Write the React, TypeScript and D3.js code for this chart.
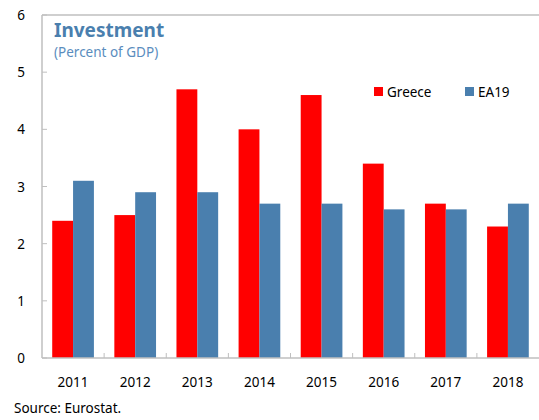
import React from "react";
import * as d3 from "d3";

const years = ["2011", "2012", "2013", "2014", "2015", "2016", "2017", "2018"];
const greece = [2.4, 2.5, 4.7, 4.0, 4.6, 3.4, 2.7, 2.3];
const ea19 = [3.1, 2.9, 2.9, 2.7, 2.7, 2.6, 2.6, 2.7];
const yTicks = [0, 1, 2, 3, 4, 5, 6];
const seriesNames = ["Greece", "EA19"];
const colors = ["#FF0000", "#4A7FAE"];

const W = 539, H = 420;
const left = 42, right = 539, top = 15, bottom = 358;
const font = "'Segoe UI', 'Noto Sans', 'Open Sans', sans-serif";
const fs = 13.5;

export default function App() {
  const x = d3.scaleBand<string>().domain(years).range([left, right]).paddingInner(0).paddingOuter(0);
  const y = d3.scaleLinear().domain([0, 6]).range([bottom, top]);
  const inner = d3.scaleBand<string>().domain(seriesNames).range([0, x.bandwidth()]).paddingOuter(0.49).paddingInner(0);
  const series = [greece, ea19];
  const axisColor = "#BFBFBF";
  return (
    <svg width={W} height={H} style={{ position: "absolute", left: 0, top: 0, background: "#fff" }}>
      {years.map((yr, i) =>
        series.map((s, j) => (
          <rect key={yr + j} x={(x(yr) as number) + (inner(seriesNames[j]) as number)} y={y(s[i])}
            width={inner.bandwidth()} height={bottom - y(s[i])} fill={colors[j]} />
        ))
      )}
      <line x1={left} x2={left} y1={top} y2={bottom} stroke={axisColor} strokeWidth={1.5} />
      <line x1={left} x2={right} y1={top} y2={top} stroke={axisColor} strokeWidth={1.5} />
      <line x1={left} x2={right} y1={bottom} y2={bottom} stroke={axisColor} strokeWidth={1.5} />
      {yTicks.map(t => (
        <g key={t}>
          <line x1={left} x2={left + 5} y1={y(t)} y2={y(t)} stroke={axisColor} strokeWidth={1} />
          <text x={21} y={y(t) + 5} textAnchor="middle" fontSize={fs} fontFamily={font} fill="#000">{t}</text>
        </g>
      ))}
      {years.map((yr, i) => (
        <g key={yr}>
          {i > 0 && <line x1={x(yr) as number} x2={x(yr) as number} y1={bottom} y2={bottom - 5} stroke={axisColor} strokeWidth={1} />}
          <text x={(x(yr) as number) + x.bandwidth() / 2} y={387} textAnchor="middle" fontSize={fs} fontFamily={font} fill="#000">{yr}</text>
        </g>
      ))}
      <text x={54} y={37} fontSize={19} fontWeight="bold" fontFamily={font} fill="#4A7FAE">Investment</text>
      <text x={54} y={57} fontSize={fs} fontFamily={font} fill="#5A8DBE">(Percent of GDP)</text>
      {seriesNames.map((n, j) => (
        <g key={n}>
          <rect x={j === 0 ? 374 : 465} y={87} width={9} height={9} fill={colors[j]} />
          <text x={j === 0 ? 387 : 478} y={97} fontSize={fs} fontFamily={font} fill="#000">{n}</text>
        </g>
      ))}
      <text x={14} y={413} fontSize={fs} fontFamily={font} fill="#000">Source: Eurostat.</text>
    </svg>
  );
}
